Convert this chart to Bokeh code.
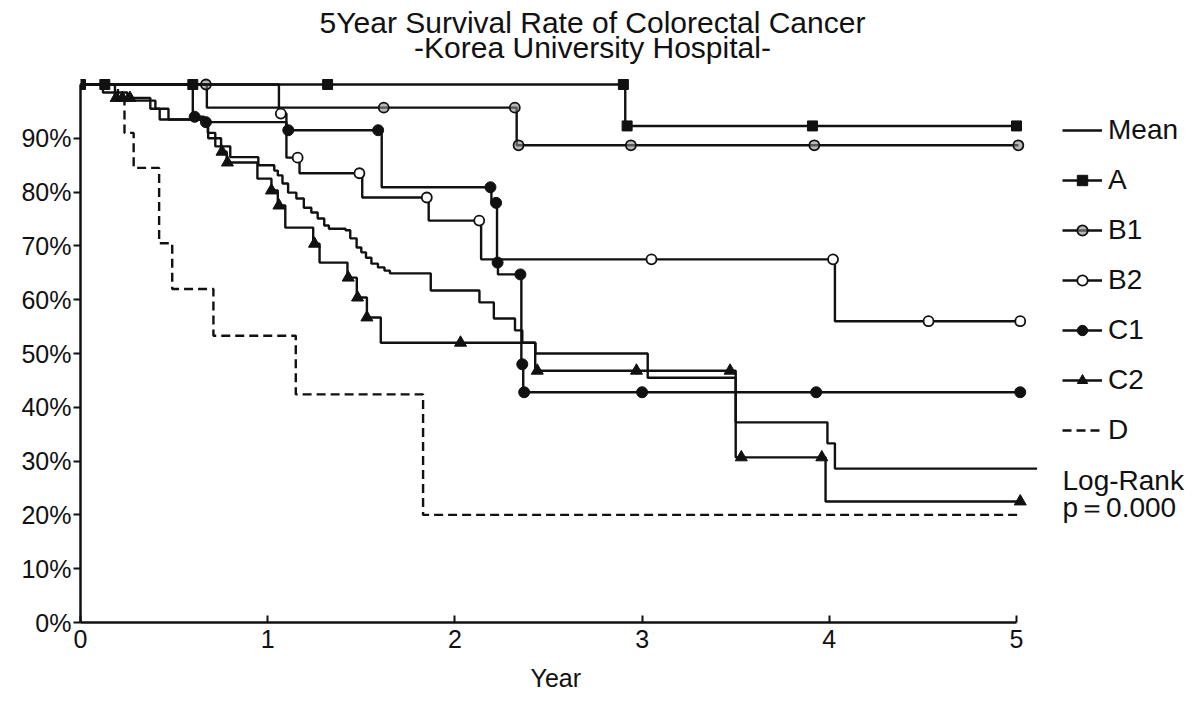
import numpy as np
from bokeh.plotting import figure
from bokeh.models import (Range1d, FixedTicker, PrintfTickFormatter, Legend,
                          LegendItem, Label, Title)
from bokeh.embed import file_html
from bokeh.resources import INLINE

FONT = "Liberation Sans"
INK = "#111111"

# Kaplan-Meier curves: step times (years) and survival (%) from that time on
mean_t = [0, 0.12, 0.25, 0.40, 0.47, 0.68, 0.72, 0.80, 0.95, 1.035, 1.054, 1.079,
          1.109, 1.153, 1.193, 1.233, 1.267, 1.302, 1.327, 1.416, 1.441, 1.475,
          1.500, 1.525, 1.554, 1.589, 1.624, 1.653, 1.871, 2.131, 2.208, 2.321,
          2.36, 2.43, 3.03, 3.50, 3.99, 4.03]
mean_s = [100, 98.5, 97, 95.5, 93.5, 91, 88.5, 86.5, 85, 84, 83.1, 81.6,
          79.9, 78.8, 77.1, 76.2, 75.1, 73.8, 73.2, 72.9, 71.4, 69.7,
          68.8, 67.8, 66.7, 66.0, 65.4, 64.9, 61.7, 59.5, 56.5, 54.3,
          52, 50, 45.5, 37.2, 33.3, 28.6]
mean_end = 5.11

a_t = [0, 2.91]
a_s = [100, 92.3]
a_end = 5.0
a_cens = [0.0, 0.13, 0.6, 1.32, 2.90, 2.92, 3.91, 5.0]

b1_t = [0, 0.675, 2.33]
b1_s = [100, 95.7, 88.7]
b1_end = 5.01
b1_cens = [0.67, 1.62, 2.32, 2.34, 2.94, 3.92, 5.01]

b2_t = [0, 1.06, 1.10, 1.17, 1.505, 1.86, 2.14, 4.03]
b2_s = [100, 94.6, 86.4, 83.5, 79.0, 74.7, 67.5, 56.0]
b2_end = 5.02
b2_cens = [1.07, 1.16, 1.49, 1.85, 2.13, 3.05, 4.02, 4.53, 5.02]

c1_t = [0, 0.60, 0.66, 1.10, 1.609, 2.195, 2.225, 2.23, 2.355, 2.365]
c1_s = [100, 94, 93, 91.5, 80.9, 78, 66.9, 64.7, 48, 42.8]
c1_end = 5.02
c1_cens = [0.61, 0.67, 1.11, 1.59, 2.19, 2.22, 2.228, 2.35, 2.36, 2.37,
           3.0, 3.93, 5.02]

c2_t = [0, 0.184, 0.373, 0.423, 0.682, 0.751, 0.781, 0.945, 1.02, 1.054, 1.094,
        1.243, 1.277, 1.426, 1.476, 1.530, 1.604, 2.429, 3.50, 3.98]
c2_s = [100, 97.5, 95.5, 93.5, 90, 87.5, 85.5, 82.5, 80.3, 77.5, 73.4,
        70.4, 66.9, 64.1, 60.4, 56.7, 52, 46.8, 30.7, 22.5]
c2_end = 5.02
c2_cens = [0.19, 0.224, 0.264, 0.756, 0.785, 1.02, 1.06, 1.25, 1.43, 1.48,
           1.53, 2.03, 2.44, 2.97, 3.47, 3.53, 3.96, 5.02]

d_t = [0, 0.20, 0.235, 0.284, 0.42, 0.49, 0.71, 1.15, 1.83]
d_s = [100, 97, 91, 84.5, 70.5, 62, 53.3, 42.4, 20.0]
d_end = 5.02

x_ticks = [0, 1, 2, 3, 4, 5]
y_ticks = [0, 10, 20, 30, 40, 50, 60, 70, 80, 90]

title_lines = ["5Year Survival Rate of Colorectal Cancer",
               "-Korea University Hospital-"]
test_lines = ["Log-Rank", "p\uff1d0.000"]
x_title = "Year"

# frame geometry: the plotting area also hosts the titles and the key,
# the axis lines themselves are limited to the data span with `bounds`
PX_PER_YEAR = 187.2
PX_PER_PCT = 5.38
FRAME_W = 1197 - 80
FRAME_H = 622


def step_xy(t, s, end):
    return list(t) + [end], list(s) + [s[-1]]


def surv_at(t, s, times):
    idx = np.searchsorted(np.asarray(t), np.asarray(times), side="right") - 1
    return list(np.asarray(s)[idx])


p = figure(width=1197, height=703,
           x_range=Range1d(0, FRAME_W / PX_PER_YEAR),
           y_range=Range1d(0, FRAME_H / PX_PER_PCT),
           output_backend="svg", toolbar_location=None,
           min_border_left=80, min_border_top=0,
           min_border_bottom=81, min_border_right=0,
           background_fill_color="white", border_fill_color="white")
p.outline_line_color = None
p.grid.visible = False

for ax in (p.xaxis[0], p.yaxis[0]):
    ax.axis_line_width = 2.5
    ax.axis_line_color = INK
    ax.major_tick_line_width = 2
    ax.major_tick_line_color = INK
    ax.minor_tick_line_color = None
    ax.major_label_text_font = FONT
    ax.major_label_text_font_size = "25px"
    ax.major_label_text_color = INK

xa = p.xaxis[0]
xa.ticker = FixedTicker(ticks=x_ticks)
xa.bounds = (0, 5)
xa.major_tick_in = 7
xa.major_tick_out = 0
xa.major_label_standoff = 7

# x-axis title sits under the middle of the 0-5 year span
p.add_layout(Title(text=x_title, align="left", offset=450, standoff=22,
                   text_font=FONT, text_font_size="25px",
                   text_font_style="normal", text_color=INK), "below")

ya = p.yaxis[0]
ya.ticker = FixedTicker(ticks=y_ticks)
ya.formatter = PrintfTickFormatter(format="%d%%")
ya.bounds = (0, 100)
ya.major_tick_in = 0
ya.major_tick_out = 7
ya.major_label_standoff = 2

LW = 2.4

x, y = step_xy(mean_t, mean_s, mean_end)
r_mean = p.step(x, y, mode="after", line_color=INK, line_width=LW)

x, y = step_xy(a_t, a_s, a_end)
r_a = p.step(x, y, mode="after", line_color=INK, line_width=LW)
m_a = p.scatter(a_cens, surv_at(a_t, a_s, a_cens), marker="square", size=10,
                fill_color=INK, line_color=INK)

x, y = step_xy(b1_t, b1_s, b1_end)
r_b1 = p.step(x, y, mode="after", line_color=INK, line_width=LW)
m_b1 = p.scatter(b1_cens, surv_at(b1_t, b1_s, b1_cens), marker="circle",
                 size=10, fill_color="#8a8a8a", fill_alpha=0.6,
                 line_color=INK, line_width=1.8)

x, y = step_xy(b2_t, b2_s, b2_end)
r_b2 = p.step(x, y, mode="after", line_color=INK, line_width=LW)
m_b2 = p.scatter(b2_cens, surv_at(b2_t, b2_s, b2_cens), marker="circle",
                 size=10, fill_color="white", line_color=INK, line_width=1.8)

x, y = step_xy(c1_t, c1_s, c1_end)
r_c1 = p.step(x, y, mode="after", line_color=INK, line_width=LW)
m_c1 = p.scatter(c1_cens, surv_at(c1_t, c1_s, c1_cens), marker="circle",
                 size=11, fill_color=INK, line_color=INK)

x, y = step_xy(c2_t, c2_s, c2_end)
r_c2 = p.step(x, y, mode="after", line_color=INK, line_width=LW)
m_c2 = p.scatter(c2_cens, surv_at(c2_t, c2_s, c2_cens), marker="triangle",
                 size=12, fill_color=INK, line_color=INK)

x, y = step_xy(d_t, d_s, d_end)
r_d = p.step(x, y, mode="after", line_color=INK, line_width=LW,
             line_dash="9 5")

legend = Legend(
    items=[LegendItem(label="Mean", renderers=[r_mean]),
           LegendItem(label="A", renderers=[r_a, m_a]),
           LegendItem(label="B1", renderers=[r_b1, m_b1]),
           LegendItem(label="B2", renderers=[r_b2, m_b2]),
           LegendItem(label="C1", renderers=[r_c1, m_c1]),
           LegendItem(label="C2", renderers=[r_c2, m_c2]),
           LegendItem(label="D", renderers=[r_d])],
    location=(982, 176), orientation="vertical",
    glyph_width=40, glyph_height=26, label_height=26, spacing=18,
    label_standoff=6, padding=0, margin=0,
    border_line_color=None, background_fill_alpha=0,
    label_text_font=FONT, label_text_font_size="28px",
    label_text_color=INK)
p.add_layout(legend)

for i, txt in enumerate(title_lines):
    p.add_layout(Label(x=512, y=600 - 25 * i, x_units="screen",
                       y_units="screen", text=txt, text_align="center",
                       text_baseline="middle", text_font=FONT,
                       text_font_size="30px", text_color=INK))

for i, txt in enumerate(test_lines):
    p.add_layout(Label(x=982, y=142 - 27 * i, x_units="screen",
                       y_units="screen", text=txt, text_align="left",
                       text_baseline="middle", text_font=FONT,
                       text_font_size="28px", text_color=INK))

open("out.html", "w").write(file_html(p, INLINE))
